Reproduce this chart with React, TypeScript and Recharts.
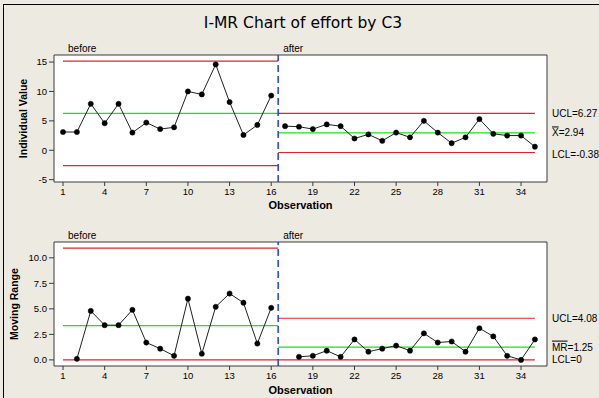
import React from 'react';
import { LineChart, Line, XAxis, YAxis, CartesianGrid, ReferenceLine } from 'recharts';

// ─── Data ─────────────────────────────────────────────────────────────────────

const OBS_BEFORE = [1, 2, 3, 4, 5, 6, 7, 8, 9, 10, 11, 12, 13, 14, 15, 16];
const OBS_AFTER = [17, 18, 19, 20, 21, 22, 23, 24, 25, 26, 27, 28, 29, 30, 31, 32, 33, 34, 35];

const INDIVIDUAL_BEFORE = [3.1, 3.1, 7.9, 4.6, 7.9, 3.0, 4.7, 3.6, 3.9, 10.0, 9.5, 14.6, 8.2, 2.6, 4.3, 9.3];
const INDIVIDUAL_AFTER = [4.1, 4.0, 3.6, 4.4, 4.1, 2.0, 2.7, 1.6, 3.0, 2.2, 5.0, 3.0, 1.2, 2.2, 5.3, 2.8, 2.5, 2.5, 0.6];

// moving range has no value for the first observation of each stage
const MR_BEFORE = [null, 0.1, 4.8, 3.4, 3.4, 4.9, 1.7, 1.1, 0.4, 6.0, 0.6, 5.2, 6.5, 5.6, 1.6, 5.1];
const MR_AFTER = [null, 0.3, 0.4, 0.9, 0.3, 2.0, 0.8, 1.1, 1.4, 0.9, 2.6, 1.7, 1.8, 0.8, 3.1, 2.3, 0.4, 0.0, 2.0];

// control limits per stage: [LCL, center, UCL]
const I_LIMITS_BEFORE = [-2.6, 6.27, 15.15];
const I_LIMITS_AFTER = [-0.38, 2.94, 6.27];
const MR_LIMITS_BEFORE = [0, 3.36, 10.95];
const MR_LIMITS_AFTER = [0, 1.25, 4.08];

const STAGE_SPLIT = 16.5;
const STAGE_START = 1;
const STAGE_END = 35;

const X_TICKS = [1, 4, 7, 10, 13, 16, 19, 22, 25, 28, 31, 34];
const I_TICKS = [-5, 0, 5, 10, 15];
const MR_TICKS = [0, 2.5, 5, 7.5, 10];

// ─── Colors ───────────────────────────────────────────────────────────────────

const BG = '#EDEAE1';
const RED = '#E3232A';
const GREEN = '#14E614';
const BLUE = '#1F3FDD';
const INK = '#000000';
const FRAME = '#3A3A3A';
const FONT = '"Liberation Sans", Arial, sans-serif';

const X_DOMAIN: [number, number] = [0.35, 35.87];

function buildRows(before: (number | null)[], after: (number | null)[]) {
  return [
    ...OBS_BEFORE.map((obs, i) => ({ obs, before: before[i], after: null })),
    ...OBS_AFTER.map((obs, i) => ({ obs, before: null, after: after[i] })),
  ];
}

const iRows = buildRows(INDIVIDUAL_BEFORE, INDIVIDUAL_AFTER);
const mrRows = buildRows(MR_BEFORE, MR_AFTER);

// ─── Labels ───────────────────────────────────────────────────────────────────

function stageLabel(text: string) {
  return (props: any) => {
    const vb = props.viewBox || {};
    return (
      <text x={vb.x + 5} y={vb.y - 3} fontSize={10} fill={INK} fontFamily={FONT}>
        {text}
      </text>
    );
  };
}

function sideLabel(name: string, value: string, overline = false, dy = 0) {
  return (props: any) => {
    const vb = props.viewBox || {};
    return (
      <text
        x={vb.x + vb.width + 5}
        y={vb.y + dy}
        dy="0.35em"
        fontSize={10}
        fill={INK}
        fontFamily={FONT}
      >
        <tspan style={overline ? { textDecoration: 'overline' } : undefined}>{name}</tspan>
        {`=${value}`}
      </text>
    );
  };
}

// ─── One control chart panel ─────────────────────────────────────────────────

function ControlPanel({
  rows,
  limitsBefore,
  limitsAfter,
  yDomain,
  yTicks,
  yLabel,
  yLabelDx,
  tickFormatter,
  height,
  top,
  marginTop,
  xAxisHeight,
  sideLabels,
}: {
  rows: any[];
  limitsBefore: number[];
  limitsAfter: number[];
  yDomain: [number, number];
  yTicks: number[];
  yLabel: string;
  yLabelDx: number;
  tickFormatter?: (v: number) => string;
  height: number;
  top: number;
  marginTop: number;
  xAxisHeight: number;
  sideLabels: React.ReactNode;
}) {
  const tick = { fontSize: 9.5, fill: INK, fontFamily: FONT };
  const seg = (a: number, b: number, y: number) => [
    { x: a, y },
    { x: b, y },
  ];
  return (
    <div style={{ position: 'absolute', left: 0, top, width: 599, height }}>
      <LineChart width={599} height={height} data={rows} margin={{ top: marginTop, right: 52, left: 0, bottom: 0 }}>
        <CartesianGrid horizontal={false} vertical={false} fill="#FFFFFF" />
        <XAxis
          dataKey="obs"
          type="number"
          domain={X_DOMAIN}
          ticks={X_TICKS}
          allowDataOverflow
          height={xAxisHeight}
          tick={tick}
          tickSize={4}
          tickMargin={2}
          stroke={FRAME}
          label={{
            value: 'Observation',
            position: 'insideBottom',
            offset: 6,
            style: { fontSize: 11, fontWeight: 'bold', fill: INK, fontFamily: FONT },
          }}
        />
        <YAxis
          domain={yDomain}
          ticks={yTicks}
          allowDataOverflow
          width={54}
          tick={tick}
          tickSize={5}
          tickMargin={2}
          tickFormatter={tickFormatter}
          stroke={FRAME}
          label={{
            value: yLabel,
            angle: -90,
            position: 'center',
            dx: yLabelDx,
            style: { fontSize: 10.5, fontWeight: 'bold', fill: INK, fontFamily: FONT },
          }}
        />

        {/* Plot frame: top and right edges */}
        <ReferenceLine y={yDomain[1]} stroke={FRAME} strokeWidth={1} ifOverflow="visible" />
        <ReferenceLine x={X_DOMAIN[1]} stroke={FRAME} strokeWidth={1} ifOverflow="visible" />

        {/* Stage limits: LCL, center, UCL */}
        {limitsBefore.map((v, i) => (
          <ReferenceLine
            key={`b${i}`}
            segment={seg(STAGE_START, STAGE_SPLIT, v)}
            stroke={i === 1 ? GREEN : RED}
            strokeWidth={1.2}
          />
        ))}
        {limitsAfter.map((v, i) => (
          <ReferenceLine
            key={`a${i}`}
            segment={seg(STAGE_SPLIT, STAGE_END, v)}
            stroke={i === 1 ? GREEN : RED}
            strokeWidth={1.2}
          />
        ))}

        {/* Stage divider */}
        <ReferenceLine x={STAGE_SPLIT} stroke={BLUE} strokeWidth={1.5} strokeDasharray="7 4" label={stageLabel('after')} />
        <ReferenceLine x={STAGE_START} stroke="none" label={stageLabel('before')} />

        {sideLabels}

        <Line
          dataKey="before"
          stroke="#222"
          strokeWidth={1}
          dot={{ r: 2.6, fill: INK, stroke: INK, strokeWidth: 0.5 }}
          isAnimationActive={false}
          connectNulls={false}
        />
        <Line
          dataKey="after"
          stroke="#222"
          strokeWidth={1}
          dot={{ r: 2.6, fill: INK, stroke: INK, strokeWidth: 0.5 }}
          isAnimationActive={false}
          connectNulls={false}
        />
      </LineChart>
    </div>
  );
}

export default function App() {
  const [iL, iC, iU] = I_LIMITS_AFTER;
  const [mL, mC, mU] = MR_LIMITS_AFTER;
  return (
    <div
      style={{
        position: 'absolute',
        left: 0,
        top: 0,
        width: 599,
        height: 398,
        background: BG,
        overflow: 'hidden',
        fontFamily: FONT,
      }}
    >
      <div
        style={{
          position: 'absolute',
          left: 3,
          top: 4,
          width: 620,
          height: 420,
          borderTop: '1px solid #000',
          borderLeft: '1px solid #000',
        }}
      />
      <div
        style={{
          position: 'absolute',
          left: 0,
          top: 14,
          width: 606,
          textAlign: 'center',
          fontFamily: '"DejaVu Sans", Verdana, sans-serif',
          fontSize: 15.5,
          lineHeight: '18px',
          color: INK,
        }}
      >
        I-MR Chart of effort by C3
      </div>

      <ControlPanel
        rows={iRows}
        limitsBefore={I_LIMITS_BEFORE}
        limitsAfter={I_LIMITS_AFTER}
        yDomain={[-5.4, 16.2]}
        yTicks={I_TICKS}
        yLabel="Individual Value"
        yLabelDx={-4}
        height={215}
        top={0}
        marginTop={55}
        xAxisHeight={33}
        sideLabels={[
          <ReferenceLine key="u" y={iU} stroke="none" label={sideLabel('UCL', iU.toFixed(2))} />,
          <ReferenceLine key="c" y={iC} stroke="none" label={sideLabel('X', iC.toFixed(2), true)} />,
          <ReferenceLine key="l" y={iL} stroke="none" label={sideLabel('LCL', iL.toFixed(2), false, 2)} />,
        ]}
      />

      <ControlPanel
        rows={mrRows}
        limitsBefore={MR_LIMITS_BEFORE}
        limitsAfter={MR_LIMITS_AFTER}
        yDomain={[-0.6, 11.55]}
        yTicks={MR_TICKS}
        yLabel="Moving Range"
        yLabelDx={-13}
        tickFormatter={(v) => v.toFixed(1)}
        height={200}
        top={200}
        marginTop={42}
        xAxisHeight={34}
        sideLabels={[
          <ReferenceLine key="u" y={mU} stroke="none" label={sideLabel('UCL', mU.toFixed(2))} />,
          <ReferenceLine key="c" y={mC} stroke="none" label={sideLabel('MR', mC.toFixed(2), true)} />,
          <ReferenceLine key="l" y={mL} stroke="none" label={sideLabel('LCL', '0')} />,
        ]}
      />
    </div>
  );
}
